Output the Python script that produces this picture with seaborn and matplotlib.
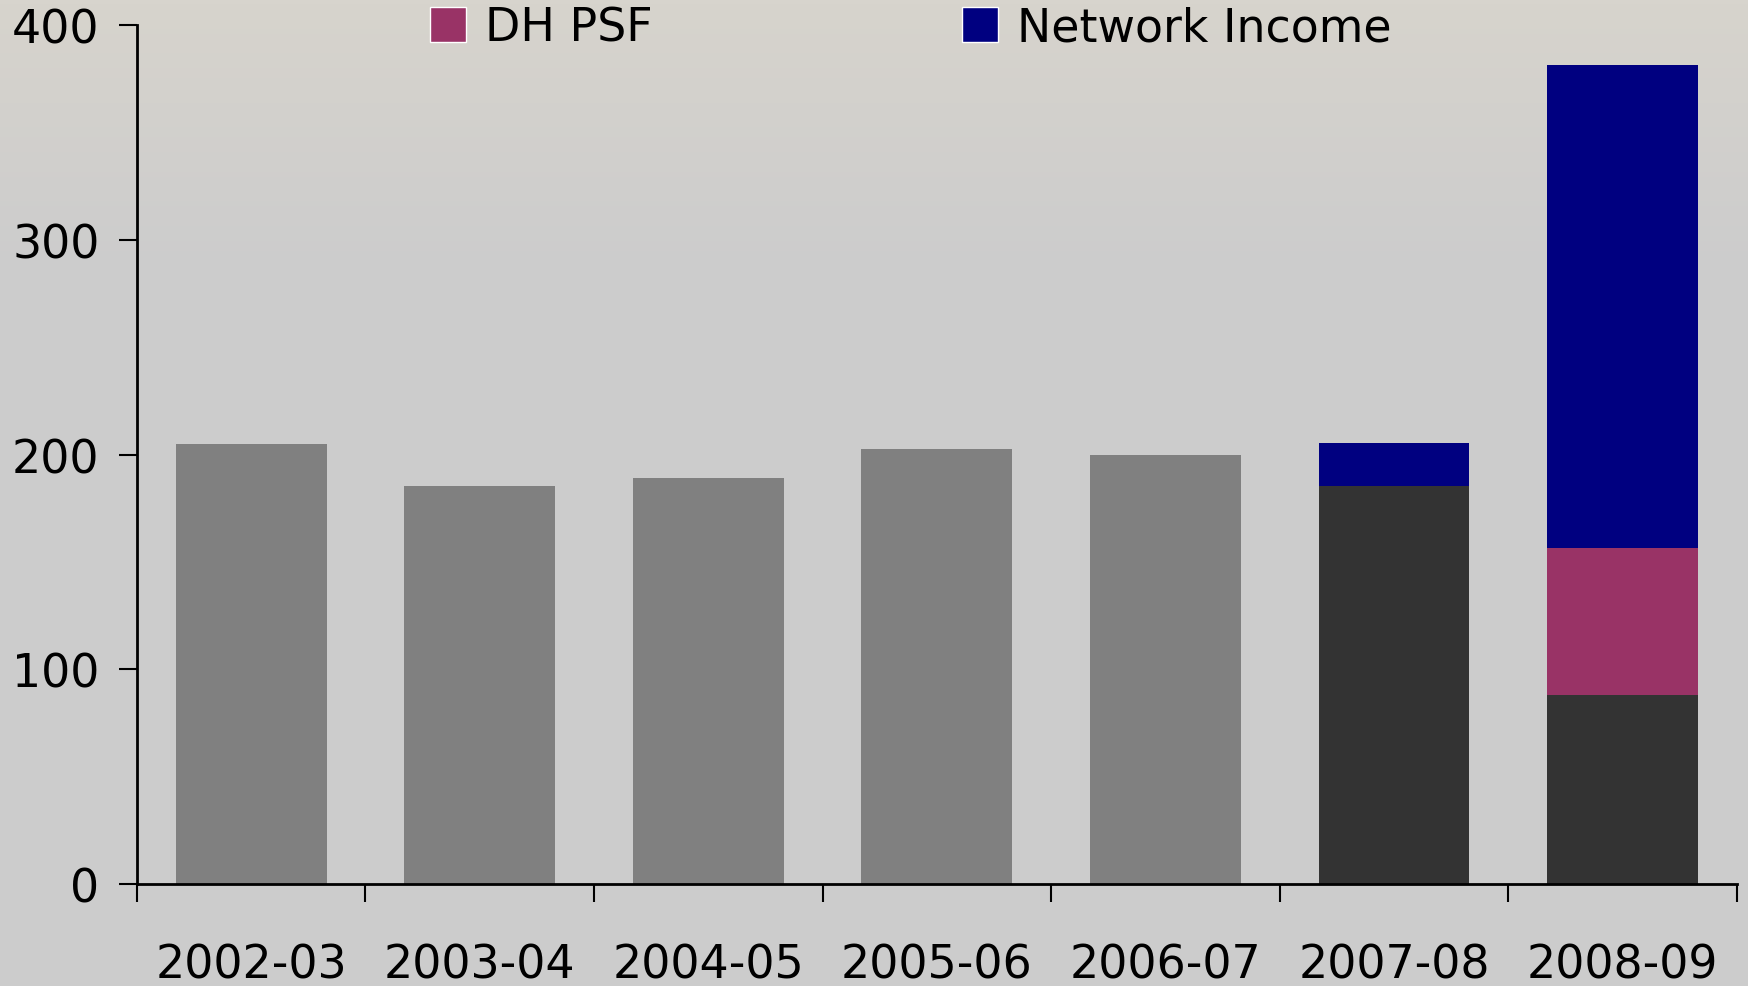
import numpy as np
import pandas as pd
import matplotlib
matplotlib.use("Agg")
import matplotlib.pyplot as plt
from matplotlib.patches import Patch
import seaborn as sns

years = ["2002-03", "2003-04", "2004-05", "2005-06", "2006-07", "2007-08", "2008-09"]
base_values = [205, 185.5, 189, 202.5, 200, 185.5, 88]
dh_psf = [0, 0, 0, 0, 0, 0, 68.5]
network_income = [0, 0, 0, 0, 0, 20, 225]
base_colors = ["#808080", "#808080", "#808080", "#808080", "#808080", "#333333", "#333333"]
legend_labels = ["DH PSF", "Network Income"]
col_psf = "#993366"
col_net = "#000080"

sns.set_theme(style="white")
plt.rcParams["font.family"] = ["DejaVu Sans"]

df = pd.DataFrame({"year": years, "base": base_values, "psf": dh_psf, "net": network_income})
df["base_psf"] = df["base"] + df["psf"]
df["total"] = df["base_psf"] + df["net"]

fig = plt.figure(figsize=(17.49, 9.87), dpi=100)
fig.patch.set_facecolor("#cccccc")

# background gradient
bg = fig.add_axes([0, 0, 1, 1], zorder=-10)
grad = np.ones((200, 2, 3))
top = np.array([0xd7, 0xd4, 0xcd]) / 255
mid = np.array([0xcc, 0xcc, 0xcc]) / 255
t = np.linspace(0, 1, 200)
w = np.clip(t / 0.28, 0, 1)[:, None]
grad[:] = ((1 - w) * top + w * mid)[:, None, :]
bg.imshow(grad, aspect="auto", extent=[0, 1, 0, 1], origin="upper")
bg.axis("off")

ax = fig.add_axes([0.0783, 0.1033, 0.9147, 0.8704])
ax.set_facecolor("none")

bw = 0.66
sns.barplot(data=df, x="year", y="total", color=col_net, width=bw, ax=ax, saturation=1, linewidth=0)
sns.barplot(data=df, x="year", y="base_psf", color=col_psf, width=bw, ax=ax, saturation=1, linewidth=0)
sns.barplot(data=df, x="year", y="base", hue="year", palette=base_colors, width=bw, ax=ax,
            saturation=1, linewidth=0, legend=False)

ax.set_xlim(-0.5, 6.5)
ax.set_ylim(0, 400)
ax.set_yticks([0, 100, 200, 300, 400])
ax.set_xlabel("")
ax.set_ylabel("")

for s in ["top", "right"]:
    ax.spines[s].set_visible(False)
for s in ["left", "bottom"]:
    ax.spines[s].set_color("black")
    ax.spines[s].set_linewidth(2)

ax.set_xticks(np.arange(-0.5, 7, 1))
ax.set_xticklabels([])
ax.set_xticks(np.arange(7), minor=True)
ax.set_xticklabels(years, minor=True)
ax.tick_params(axis="x", which="major", direction="out", length=13, width=1.5, color="black", bottom=True)
ax.tick_params(axis="x", which="minor", length=0, pad=42, labelsize=33, labelcolor="black")
ax.tick_params(axis="y", direction="out", length=13, width=1.5, color="black", left=True,
               pad=14, labelsize=33, labelcolor="black")

handles = [Patch(facecolor=col_psf, label=legend_labels[0]),
           Patch(facecolor=col_net, label=legend_labels[1])]
leg = fig.legend(handles=handles, loc="upper left", bbox_to_anchor=(0.222, 1.035), ncol=2,
                 frameon=False, fontsize=33, handlelength=0.8, handleheight=0.8,
                 handletextpad=0.4, columnspacing=6.75, labelcolor="black")

fig.savefig("out.png", dpi=100, facecolor=fig.get_facecolor())
